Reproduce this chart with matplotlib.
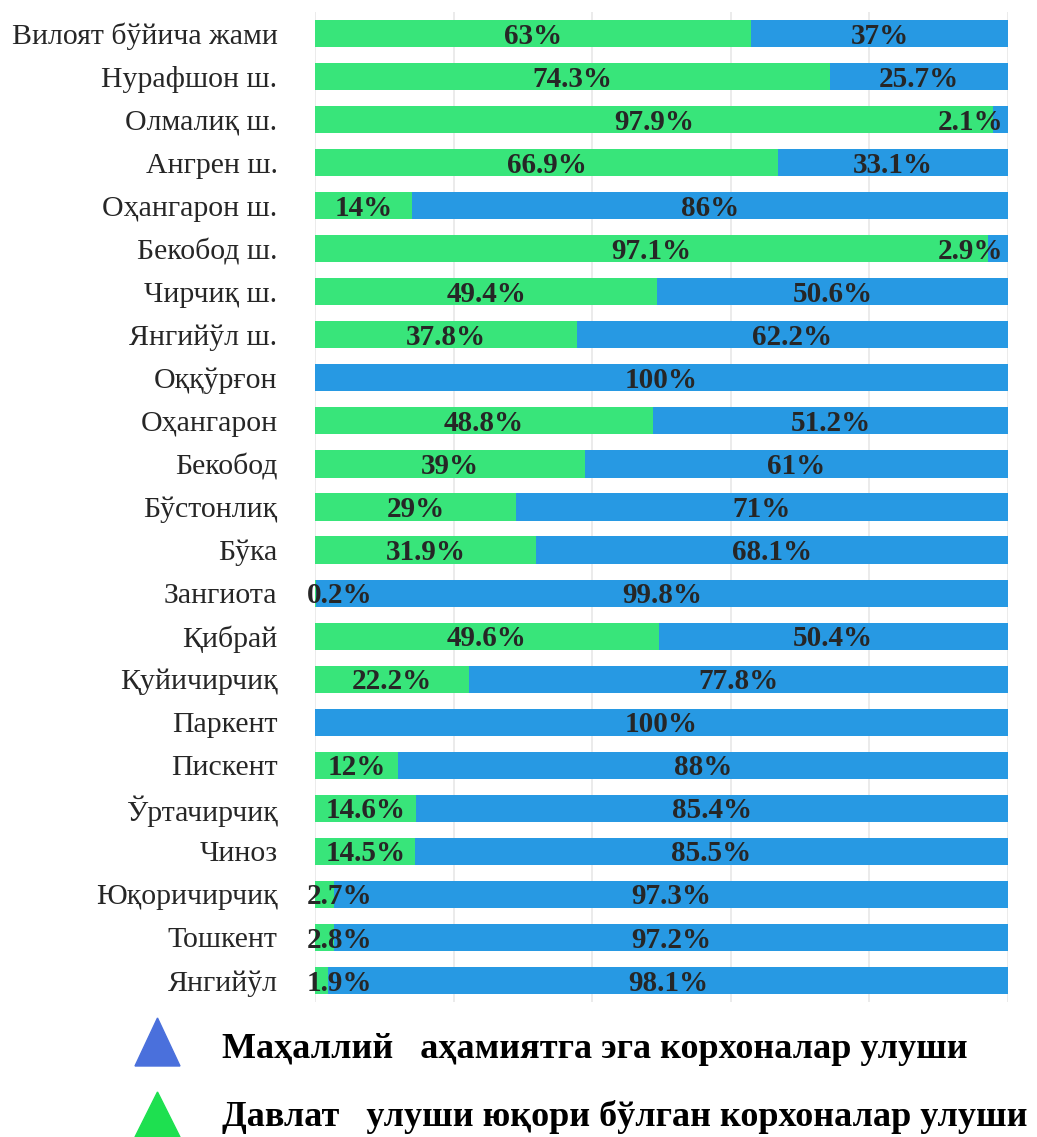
import matplotlib.pyplot as plt
from matplotlib.patches import Polygon
import numpy as np

plt.rcParams['font.family'] = ['Liberation Serif', 'DejaVu Serif']

categories = ['Вилоят бўйича жами', 'Нурафшон ш.', 'Олмалиқ ш.', 'Ангрен ш.', 'Оҳангарон ш.',
              'Бекобод ш.', 'Чирчиқ ш.', 'Янгийўл ш.', 'Оққўрғон', 'Оҳангарон', 'Бекобод',
              'Бўстонлиқ', 'Бўка', 'Зангиота', 'Қибрай', 'Қуйичирчиқ', 'Паркент', 'Пискент',
              'Ўртачирчиқ', 'Чиноз', 'Юқоричирчиқ', 'Тошкент', 'Янгийўл']
state_share = [63, 74.3, 97.9, 66.9, 14, 97.1, 49.4, 37.8, 0, 48.8, 39, 29, 31.9, 0.2,
               49.6, 22.2, 0, 12, 14.6, 14.5, 2.7, 2.8, 1.9]
local_share = [37, 25.7, 2.1, 33.1, 86, 2.9, 50.6, 62.2, 100, 51.2, 61, 71, 68.1, 99.8,
               50.4, 77.8, 100, 88, 85.4, 85.5, 97.3, 97.2, 98.1]
legend_labels = ['Маҳаллий   аҳамиятга эга корхоналар улуши',
                 'Давлат   улуши юқори бўлган корхоналар улуши']

green = '#38e57a'
blue = '#2799e3'
txt = '#262626'

fig = plt.figure(figsize=(10.37, 11.37), dpi=100)
ax = fig.add_axes([0.3038, 1 - 1002 / 1137, 0.668, 990 / 1137])

y = np.arange(len(categories))
ax.barh(y, state_share, height=0.63, color=green, zorder=2)
ax.barh(y, local_share, left=state_share, height=0.63, color=blue, zorder=2)


def fmt(v):
    return ('%g' % v) + '%'


lab = dict(va='center', fontsize=21, fontweight='bold', color=txt, zorder=3)
for i, (g, b) in enumerate(zip(state_share, local_share)):
    yy = i + 0.06
    if g > 0:
        if g < 8:
            ax.text(-1.2, yy, fmt(g), ha='left', **lab)
        else:
            ax.text(g / 2, yy, fmt(g), ha='center', **lab)
    if b > 0:
        if b < 8:
            ax.text(99.3, yy, fmt(b), ha='right', **lab)
        else:
            ax.text(g + b / 2, yy, fmt(b), ha='center', **lab)

ax.set_xlim(0, 100)
ax.set_ylim(len(categories) - 0.5, -0.5)
ax.set_xticks([0, 20, 40, 60, 80, 100])
ax.set_xticklabels([])
ax.tick_params(axis='x', length=0)
ax.grid(axis='x', color='#e8e8e8', linewidth=1.2, zorder=0)
ax.set_yticks(y)
ax.set_yticklabels(categories, fontsize=21.5, color=txt)
ax.tick_params(axis='y', length=0, pad=27)
for s in ax.spines.values():
    s.set_visible(False)

# legend drawn as triangles + text
W, H = 1037, 1137
for (top, bot), col in [((1018, 1066), '#4a70dc'), ((1092, 1137), '#1ee050')]:
    tri = Polygon([(135 / W, 1 - bot / H), (180 / W, 1 - bot / H), (157.5 / W, 1 - top / H)],
                  closed=True, transform=fig.transFigure, color=col)
    fig.patches.append(tri)
fig.text(222 / W, 1 - 1050 / H, legend_labels[0], fontsize=26, fontweight='bold',
         ha='left', va='center', color='black')
fig.text(222 / W, 1 - 1117 / H, legend_labels[1], fontsize=26, fontweight='bold',
         ha='left', va='center', color='black')

fig.savefig('out.png', dpi=100)
